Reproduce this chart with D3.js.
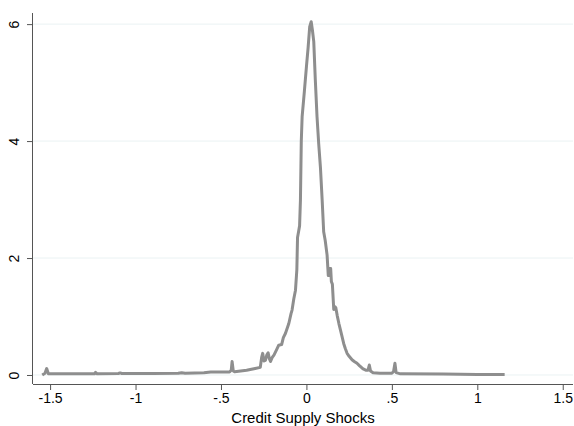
<!DOCTYPE html>
<html>
<head>
<meta charset="utf-8">
<script src="https://cdn.jsdelivr.net/npm/d3@7"></script>
<style>
  body { margin: 0; background: #fff; }
  text { font-family: "Liberation Sans", Arial, sans-serif; fill: #000; }
</style>
</head>
<body>
<div id="chart"></div>
<script>
// Density of credit supply shocks
const shockX = [-1.546, -1.53, -1.52, -1.51, -1.45, -1.3, -1.24, -1.234, -1.225, -1.1, -1.09, -1.08,
  -0.9, -0.75, -0.73, -0.71, -0.6, -0.56, -0.45, -0.44, -0.435, -0.428, -0.42, -0.35, -0.3, -0.27,
  -0.262, -0.256, -0.248, -0.24, -0.232, -0.224, -0.217, -0.21, -0.2, -0.19, -0.175, -0.162, -0.145,
  -0.135, -0.123, -0.11, -0.103, -0.09, -0.084, -0.074, -0.064, -0.056, -0.052, -0.046, -0.04, -0.035,
  -0.03, -0.025, -0.012, 0.0, 0.01, 0.019, 0.028, 0.035, 0.043, 0.052, 0.062, 0.072, 0.082, 0.092,
  0.101, 0.11, 0.121, 0.128, 0.132, 0.137, 0.142, 0.146, 0.152, 0.16, 0.166, 0.172, 0.18, 0.19, 0.199,
  0.21, 0.218, 0.228, 0.238, 0.25, 0.267, 0.28, 0.296, 0.31, 0.325, 0.335, 0.35, 0.36, 0.368, 0.375,
  0.39, 0.43, 0.5, 0.51, 0.518, 0.525, 0.55, 0.8, 1.0, 1.16];
const density = [0, 0.03, 0.11, 0.02, 0.02, 0.02, 0.02, 0.045, 0.02, 0.025, 0.035, 0.025,
  0.025, 0.03, 0.04, 0.03, 0.04, 0.05, 0.05, 0.08, 0.23, 0.07, 0.055, 0.08, 0.11, 0.13,
  0.3, 0.37, 0.24, 0.25, 0.34, 0.38, 0.28, 0.23, 0.3, 0.34, 0.43, 0.51, 0.52,
  0.64, 0.71, 0.82, 0.88, 1.05, 1.11, 1.3, 1.45, 1.8, 2.35, 2.45, 2.55, 2.99,
  4.0, 4.42, 4.85, 5.27, 5.6, 5.95, 6.04, 5.9, 5.7, 5.05, 4.42, 3.95, 3.55, 3.0,
  2.45, 2.3, 2.05, 1.7, 1.7, 1.82, 1.82, 1.6, 1.55, 1.12, 1.17, 1.15, 1.02, 0.88, 0.77,
  0.64, 0.54, 0.45, 0.37, 0.32, 0.26, 0.23, 0.2, 0.16, 0.12, 0.1, 0.08, 0.08, 0.17, 0.07,
  0.04, 0.03, 0.03, 0.06, 0.2, 0.04, 0.02, 0.015, 0.01, 0.01];

const xTicks = [-1.5, -1, -0.5, 0, 0.5, 1, 1.5];
const yTicks = [0, 2, 4, 6];
const xTitle = "Credit Supply Shocks";

const width = 574, height = 426;
const plotLeft = 33, plotRight = 573, plotTop = 13, plotBottom = 384;

const svg = d3.select("#chart").append("svg")
  .attr("width", width)
  .attr("height", height);

svg.append("rect").attr("width", width).attr("height", height).attr("fill", "#fff");

const x = d3.scaleLinear().domain([-1.6, 1.56]).range([plotLeft, plotRight]);
const y = d3.scaleLinear().domain([-0.154, 6.19]).range([plotBottom, plotTop]);

// stata-style label format: .5, -.5
const fmt = v => String(v).replace(/^(-?)0\./, "$1.");

// gridlines
svg.append("g").selectAll("line").data(yTicks).join("line")
  .attr("x1", plotLeft).attr("x2", plotRight)
  .attr("y1", d => y(d)).attr("y2", d => y(d))
  .attr("stroke", "#eaf2f3").attr("stroke-width", 1);

// density line
const line = d3.line().x(d => x(d[0])).y(d => y(d[1]));
svg.append("path")
  .datum(d3.zip(shockX, density))
  .attr("fill", "none")
  .attr("stroke", "#8e8e8e")
  .attr("stroke-width", 3)
  .attr("stroke-linejoin", "round")
  .attr("d", line);

// x axis
const xAxis = svg.append("g").attr("transform", `translate(0,${plotBottom})`)
  .call(d3.axisBottom(x).tickValues(xTicks).tickFormat(fmt).tickSize(6).tickPadding(3));
xAxis.select(".domain").attr("stroke", "#555").attr("d", `M${plotLeft},0.5H${plotRight}`);
xAxis.selectAll(".tick line").attr("stroke", "#555");
xAxis.selectAll("text").attr("font-size", 14).attr("fill", "#000")
  .style("font-family", "Liberation Sans, Arial, sans-serif");

// y axis
const yAxis = svg.append("g").attr("transform", `translate(${plotLeft},0)`)
  .call(d3.axisLeft(y).tickValues(yTicks).tickFormat(fmt).tickSize(6));
yAxis.select(".domain").attr("stroke", "#555").attr("d", `M-0.5,${plotTop}V${plotBottom}`);
yAxis.selectAll(".tick line").attr("stroke", "#555");
yAxis.selectAll("text")
  .attr("x", null).attr("dy", null)
  .attr("text-anchor", "middle")
  .attr("transform", "translate(-14.5,0) rotate(-90)")
  .attr("font-size", 14).attr("fill", "#000")
  .style("font-family", "Liberation Sans, Arial, sans-serif");

// axis title
svg.append("text")
  .attr("x", (plotLeft + plotRight) / 2)
  .attr("y", 422.5)
  .attr("text-anchor", "middle")
  .attr("font-size", 15)
  .text(xTitle);
</script>
</body>
</html>
